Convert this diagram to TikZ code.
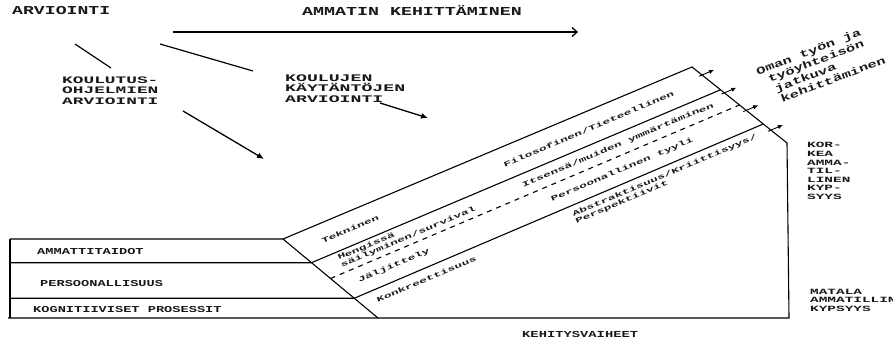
\documentclass[tikz,border=0pt]{standalone}
\usepackage{fontspec}
\newfontfamily\tw[FakeStretch=1.5]{Liberation Mono}
\newfontfamily\tww[FakeStretch=1.8]{Liberation Mono}
\usetikzlibrary{calc,arrows.meta}
\begin{document}
\begin{tikzpicture}[x=1pt,y=-1pt,
  tt/.style 2 args={inner sep=0pt, text=black!90, font=\tw\bfseries\fontsize{#1}{#2}\selectfont},
  tw/.style 2 args={inner sep=0pt, text=black!90, font=\tww\bfseries\fontsize{#1}{#2}\selectfont},
  frame/.style={line width=1.1pt, line join=miter},
  plain/.style={line width=1.2pt},
  bigarr/.style={line width=1.3pt, -{Latex[length=7pt,width=6pt]}},
  toparr/.style={line width=1.3pt, -{Straight Barb[length=5pt,width=9pt]}},
  smallarr/.style={line width=0.9pt, -{Latex[length=5pt,width=4.5pt]}},
  bandtext/.style={tw={7.1}{8}, rotate=22.8}
]
\useasboundingbox (0,0) rectangle (893,340);

% ---- band corners
\coordinate (TL) at (283,239);
\coordinate (TR) at (692,67);
\coordinate (BL) at (378,318);
\coordinate (BR) at (787,143);
\coordinate (BRB) at (789,318);
\coordinate (BX) at (10,0);
\coordinate (BX0) at (8,318);

\coordinate (L1) at ($(TL)!0.3!(BL)$);
\coordinate (R1) at ($(TR)!0.3!(BR)$);
\coordinate (L2) at ($(TL)!0.5!(BL)$);
\coordinate (R2) at ($(TR)!0.5!(BR)$);
\coordinate (L3) at ($(TL)!0.75!(BL)$);
\coordinate (R3) at ($(TR)!0.75!(BR)$);

% ---- outline
\draw[frame] (BX |- TL) -- (TL) -- (TR) -- (BR) -- (BRB) -- (BX0);
\draw[frame] (BX |- TL) -- (BX |- BRB);
\draw[frame] (TL) -- (BL);
\draw[frame] (BX |- L1) -- (L1) -- (R1);
\draw[frame] (BX |- L3) -- (L3) -- (R3);
\draw[frame, dash pattern=on 5pt off 5pt] (L2) -- (R2);

% ---- small arrows on the right edge
\foreach \t/\n in {0.105/1,0.34/2,0.57/3,0.83/4}{
  \coordinate (A\n) at ($(TR)!\t!(BR)$);
  \coordinate (As\n) at ($(A\n)+(-2.8,1.2)$);
  \coordinate (Ae\n) at ($(A\n)+(12,-5)$);
  \draw[smallarr] (As\n) -- (Ae\n);
}

% ---- top texts
\node[tt={12.1}{12}, anchor=west] (arv) at (12,11) {ARVIOINTI};
\node[tt={12.2}{12}, anchor=west] (amm) at (302,11) {AMMATIN KEHITTÄMINEN};
\node[tw={9.9}{10.5}, anchor=west, align=left] (kou) at (62,90.5) {KOULUTUS-\\OHJELMIEN\\ARVIOINTI};
\node[tw={10.1}{10.3}, anchor=west, align=left] (kay) at (285,88.5) {KOULUJEN\\KÄYTÄNTÖJEN\\ARVIOINTI};

% ---- top connectors
\coordinate (c1a) at (75,44);  \coordinate (c1b) at (111,68);
\coordinate (c2a) at (160,44); \coordinate (c2b) at (253,71);
\coordinate (c3a) at (183,111); \coordinate (c3b) at (264,159);
\coordinate (c4a) at (380,103); \coordinate (c4b) at (428,118);
\coordinate (c5a) at (173,32); \coordinate (c5b) at (578,32);
\draw[plain] (c1a) -- (c1b);
\draw[plain] (c2a) -- (c2b);
\draw[bigarr] (c3a) -- (c3b);
\draw[bigarr] (c4a) -- (c4b);
\draw[toparr] (c5a) -- (c5b);

% ---- left box texts
\node[tt={9.1}{9}, anchor=west] (amt) at (37,251) {AMMATTITAIDOT};
\node[tt={9.1}{9}, anchor=west] (per) at (40,283) {PERSOONALLISUUS};
\node[tt={9.1}{9}, anchor=west] (kog) at (33,309) {KOGNITIIVISET PROSESSIT};

% ---- band texts
\node[bandtext] (tek) at ($(TL)+0.128*(409,-172)+0.155*(95,77)$) {Tekninen};
\node[bandtext] (fil) at ($(TL)+0.71*(409,-172)+0.16*(95,77)$) {Filosofinen/Tieteellinen};
\node[bandtext, anchor=west, align=left] (hen) at ($(TL)+0.045*(409,-172)+0.40*(95,77)$) {Hengissä\\säilyminen/survival};
\node[bandtext] (its) at ($(TL)+0.725*(409,-172)+0.405*(95,77)$) {Itsensä/muiden ymmärtäminen};
\node[bandtext] (jal) at ($(TL)+0.125*(409,-172)+0.63*(95,77)$) {Jäljittely};
\node[bandtext] (pty) at ($(TL)+0.683*(409,-172)+0.63*(95,77)$) {Persoonallinen tyyli};
\node[bandtext] (kon) at ($(TL)+0.151*(409,-172)+0.86*(95,77)$) {Konkreettisuus};
\node[bandtext, anchor=west, align=left] (abs) at ($(TL)+0.51*(409,-172)+0.87*(95,77)$) {Abstraktisuus/Kriittisyys/\\Perspektiivit};

% ---- right texts
\node[tt={10.3}{11.5}, anchor=north west, align=left, rotate=21] (oman) at (755,68)
  {Oman työn ja\\\hspace*{8pt}työyhteisön\\\hspace*{11pt}jatkuva\\\hspace*{13pt}kehittäminen};
\node[tw={8}{8.6}, anchor=west, align=left] (kor) at (807,171) {KOR-\\KEA\\AMMA-\\TIL-\\LINEN\\KYP-\\SYYS};
\node[tw={8}{8.3}, anchor=west, align=left] (mat) at (810,300.3) {MATALA\\AMMATILLINEN\\KYPSYYS};
\node[tt={9.2}{9}, anchor=west] (keh) at (522,334) {KEHITYSVAIHEET};
\end{tikzpicture}
\end{document}
